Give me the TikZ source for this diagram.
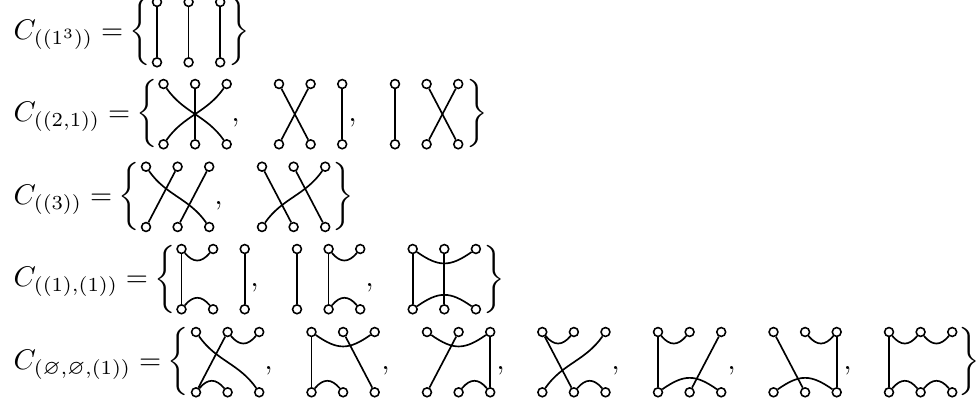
\documentclass[tikz,border=0pt]{standalone}
\usepackage{amsmath}
\usepackage{amssymb}
\usepackage{tikz}

\tikzset{
  vertex/.style={circle, draw, line width=0.7pt, inner sep=0pt, minimum size=4pt},
  strand/.style={line width=0.75pt},
  ucap/.style={out=-50, in=-130, looseness=1.35},
  uwide/.style={out=-35, in=-145, looseness=1.25},
  arch/.style={out=50, in=130, looseness=1.35},
  awide/.style={out=35, in=145, looseness=1.25},
  fall/.style={out=-55, in=125},
  rise/.style={out=-125, in=55},
  lab/.style={anchor=base west, inner sep=0pt, scale=1.28}
}
% three top and three bottom vertices of one diagram
\newcommand{\strandpts}[3]{
  \node[vertex] (#1t1) at (#2,#3) {};
  \node[vertex] (#1t2) at ({#2+31.6},#3) {};
  \node[vertex] (#1t3) at ({#2+63.2},#3) {};
  \node[vertex] (#1b1) at (#2,{#3+60.3}) {};
  \node[vertex] (#1b2) at ({#2+31.6},{#3+60.3}) {};
  \node[vertex] (#1b3) at ({#2+63.2},{#3+60.3}) {};
}

\begin{document}
\begin{tikzpicture}[x=0.45pt, y=-0.45pt]
\useasboundingbox (0,0) rectangle (977,404);

% first row
\node[lab] (c1) at (13,39) {$C_{((1^3))}=\mkern-1mu\bigg\{$};
\strandpts{a}{157}{2}
\draw[strand] (at1) -- (ab1);
\draw[strand] (at2) -- (ab2);
\draw[strand] (at3) -- (ab3);
\node[lab] (r1) at (227.5,39) {$\bigg\}$};

% second row
\node[lab] (c2) at (13,121) {$C_{((2,1))}=\mkern-1mu\bigg\{$};
\strandpts{b}{163.5}{84}
\draw[strand] (bt1) to[out=-55, in=125] (bb3);
\draw[strand] (bt3) to[out=-125, in=55] (bb1);
\draw[strand] (bt2) -- (bb2);
\node[lab] (b1c) at (231,121) {$,$};
\strandpts{bb}{279}{84}
\draw[strand] (bbt1) -- (bbb2);
\draw[strand] (bbt2) -- (bbb1);
\draw[strand] (bbt3) -- (bbb3);
\node[lab] (b2c) at (348,121) {$,$};
\strandpts{bc}{395}{84}
\draw[strand] (bct1) -- (bcb1);
\draw[strand] (bct2) -- (bcb3);
\draw[strand] (bct3) -- (bcb2);
\node[lab] (r2) at (465.5,121) {$\bigg\}$};

% third row
\node[lab] (c3) at (13,204) {$C_{((3))}=\mkern-1mu\bigg\{$};
\strandpts{c}{146}{166.7}
\draw[strand] (ct1) to[fall] (cb3);
\draw[strand] (ct2) -- (cb1);
\draw[strand] (ct3) -- (cb2);
\node[lab] (c1c) at (214,204) {$,$};
\strandpts{cc}{262}{166.7}
\draw[strand] (cct1) -- (ccb2);
\draw[strand] (cct2) -- (ccb3);
\draw[strand] (cct3) to[rise] (ccb1);
\node[lab] (r3) at (331.5,204) {$\bigg\}$};

% fourth row
\node[lab] (c4) at (13,286.5) {$C_{((1),(1))}=\mkern-1mu\bigg\{$};
\strandpts{d}{181.5}{249}
\draw[strand] (dt1) -- (db1);
\draw[strand] (dt1) to[ucap] (dt2);
\draw[strand] (db1) to[arch] (db2);
\draw[strand] (dt3) -- (db3);
\node[lab] (d1c) at (250,286.5) {$,$};
\strandpts{dd}{297}{249}
\draw[strand] (ddt1) -- (ddb1);
\draw[strand] (ddt2) -- (ddb2);
\draw[strand] (ddt2) to[ucap] (ddt3);
\draw[strand] (ddb2) to[arch] (ddb3);
\node[lab] (d2c) at (365,286.5) {$,$};
\strandpts{de}{412.7}{249}
\draw[strand] (det1) -- (deb1);
\draw[strand] (det1) to[uwide] (det3);
\draw[strand] (deb1) to[awide] (deb3);
\draw[strand] (det2) -- (deb2);
\node[lab] (r4) at (482.5,286.5) {$\bigg\}$};

% fifth row
\node[lab] (c5) at (13,369) {$C_{(\varnothing,\varnothing,(1))}=\mkern-1mu\bigg\{$};
\strandpts{e}{196}{332}
\draw[strand] (et1) to[fall] (eb3);
\draw[strand] (et2) -- (eb1);
\draw[strand] (et2) to[ucap] (et3);
\draw[strand] (eb1) to[arch] (eb2);
\node[lab] (e1c) at (264,369) {$,$};
\strandpts{f}{311.5}{332}
\draw[strand] (ft1) -- (fb1);
\draw[strand] (ft1) to[uwide] (ft3);
\draw[strand] (ft2) -- (fb3);
\draw[strand] (fb1) to[arch] (fb2);
\node[lab] (f1c) at (381,369) {$,$};
\strandpts{g}{427}{332}
\draw[strand] (gt1) to[uwide] (gt3);
\draw[strand] (gt2) -- (gb1);
\draw[strand] (gt3) -- (gb3);
\draw[strand] (gb2) to[arch] (gb3);
\node[lab] (g1c) at (496,369) {$,$};
\strandpts{h}{542.3}{332}
\draw[strand] (ht1) to[ucap] (ht2);
\draw[strand] (ht1) -- (hb2);
\draw[strand] (ht3) to[rise] (hb1);
\draw[strand] (hb2) to[arch] (hb3);
\node[lab] (h1c) at (611,369) {$,$};
\strandpts{i}{658}{332}
\draw[strand] (it1) to[ucap] (it2);
\draw[strand] (it1) -- (ib1);
\draw[strand] (it3) -- (ib2);
\draw[strand] (ib1) to[awide] (ib3);
\node[lab] (i1c) at (727,369) {$,$};
\strandpts{j}{773.5}{332}
\draw[strand] (jt2) to[ucap] (jt3);
\draw[strand] (jt1) -- (jb2);
\draw[strand] (jt3) -- (jb3);
\draw[strand] (jb1) to[awide] (jb3);
\node[lab] (j1c) at (843,369) {$,$};
\strandpts{k}{889}{332}
\draw[strand] (kt1) to[ucap] (kt2);
\draw[strand] (kt2) to[ucap] (kt3);
\draw[strand] (kt1) -- (kb1);
\draw[strand] (kb1) to[arch] (kb2);
\draw[strand] (kb2) to[arch] (kb3);
\node[lab] (r5) at (958,369) {$\bigg\}$};
\end{tikzpicture}
\end{document}
